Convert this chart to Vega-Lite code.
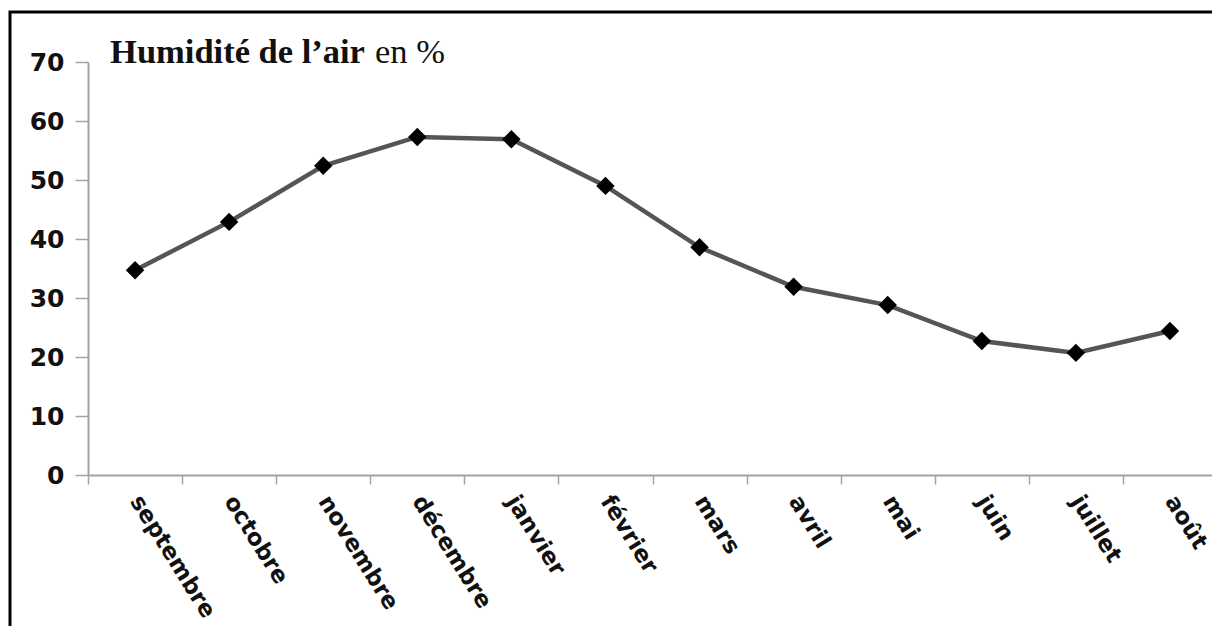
{
  "$schema": "https://vega.github.io/schema/vega-lite/v6.json",
  "autosize": {"type": "none"},
  "padding": {"left": 10, "top": 12, "right": -3, "bottom": -3},
  "width": 1205,
  "height": 617,
  "background": "white",
  "config": {
    "view": {"stroke": "black", "strokeWidth": 3},
    "axis": {
      "domainColor": "#a3a3a3",
      "domainWidth": 2,
      "tickColor": "#a3a3a3",
      "tickWidth": 1.5,
      "labelColor": "#111111",
      "labelFont": "DejaVu Sans",
      "labelFontWeight": "bold",
      "labelFontSize": 23,
      "grid": false,
      "title": null
    }
  },
  "data": {
    "values": [
      {"mois": "septembre", "humidite": 34.7},
      {"mois": "octobre", "humidite": 42.9},
      {"mois": "novembre", "humidite": 52.4},
      {"mois": "décembre", "humidite": 57.3},
      {"mois": "janvier", "humidite": 56.9},
      {"mois": "février", "humidite": 49.0},
      {"mois": "mars", "humidite": 38.6},
      {"mois": "avril", "humidite": 31.9},
      {"mois": "mai", "humidite": 28.8},
      {"mois": "juin", "humidite": 22.7},
      {"mois": "juillet", "humidite": 20.7},
      {"mois": "août", "humidite": 24.4}
    ]
  },
  "layer": [
    {
      "mark": {"type": "line", "color": "#555555", "strokeWidth": 4.5},
      "encoding": {
        "x": {
          "field": "mois",
          "type": "nominal",
          "sort": null,
          "scale": {"range": [78, 1207], "paddingInner": 0, "paddingOuter": 0},
          "axis": {
            "orient": "bottom",
            "offset": -154,
            "tickBand": "extent",
            "tickSize": 9,
            "labelAngle": 58,
            "labelAlign": "left",
            "labelBaseline": "middle",
            "labelPadding": 13
          }
        },
        "y": {
          "field": "humidite",
          "type": "quantitative",
          "scale": {"domain": [0, 70], "nice": false, "range": [463, 50]},
          "axis": {
            "orient": "left",
            "offset": -78,
            "values": [0, 10, 20, 30, 40, 50, 60, 70],
            "tickSize": 13,
            "labelPadding": 11,
            "labelFontSize": 25
          }
        }
      }
    },
    {
      "mark": {
        "type": "point",
        "shape": "diamond",
        "filled": true,
        "color": "black",
        "opacity": 1,
        "size": 340
      },
      "encoding": {
        "x": {"field": "mois", "type": "nominal", "sort": null},
        "y": {"field": "humidite", "type": "quantitative"}
      }
    },
    {
      "data": {"values": [{"titre": "Humidité de l’air", "unite": "en %"}]},
      "layer": [
        {
          "mark": {
            "type": "text",
            "font": "Liberation Serif",
            "fontWeight": "bold",
            "fontSize": 34.5,
            "color": "#111111",
            "align": "left",
            "baseline": "alphabetic",
            "dx": -25,
            "dy": 1
          },
          "encoding": {
            "x": {"datum": "septembre"},
            "y": {"datum": 70},
            "text": {"field": "titre"}
          }
        },
        {
          "mark": {
            "type": "text",
            "font": "Liberation Serif",
            "fontWeight": "normal",
            "fontSize": 34.5,
            "color": "#111111",
            "align": "left",
            "baseline": "alphabetic",
            "dx": 240,
            "dy": 1
          },
          "encoding": {
            "x": {"datum": "septembre"},
            "y": {"datum": 70},
            "text": {"field": "unite"}
          }
        }
      ]
    }
  ]
}
